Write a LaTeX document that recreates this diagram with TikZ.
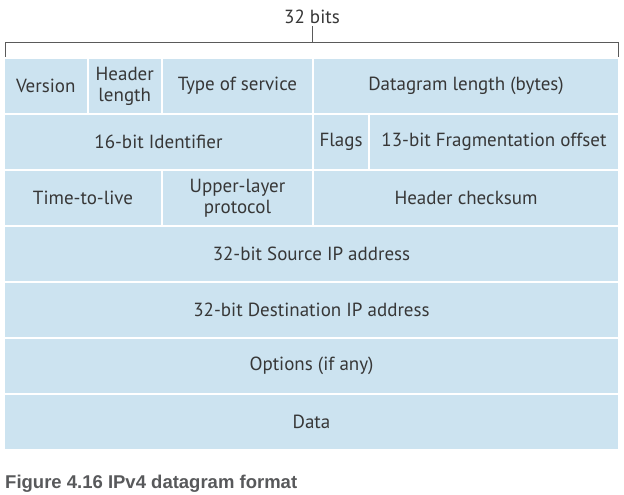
\documentclass[tikz,border=0pt]{standalone}
\usepackage{fontspec}
\setmainfont{PT Sans}
\newfontfamily\capfont{Liberation Sans}
\usetikzlibrary{positioning}
\definecolor{fieldblue}{RGB}{204,227,240}
\definecolor{fieldtext}{RGB}{55,55,55}
\definecolor{capgray}{RGB}{88,89,91}
\definecolor{bracegray}{RGB}{90,90,90}

\tikzset{
	field/.style={fill=fieldblue, draw=none, inner sep=0pt, minimum height=54pt, align=center, text=fieldtext, font=\fontsize{19}{21}\selectfont},
	brace/.style={draw=bracegray, line width=0.8pt}
}

\begin{document}
\begin{tikzpicture}[x=1pt, y=-1pt]
		\useasboundingbox (0,0) rectangle (624,495);
		
		% width of the datagram
		\node[text=fieldtext, font=\fontsize{19}{19}\selectfont] (bits) at (312,17) {32 bits};
		\coordinate (bl) at (5,57);
		\coordinate (br) at (618,57);
		\coordinate (bm) at (312,42);
		\draw[brace] (bl) -- (5,42) -- (618,42) -- (br);
		\draw[brace] (bits.south) ++(0,-1) -- (bm);
		
		% row 1
		\node[field, minimum width=81.5pt] (version) at (45.75,86) {Version};
		\node[field, minimum width=72.5pt] (hlen) at (124.75,86) {Header\\length};
		\node[field, minimum width=149pt] (tos) at (237.5,86) {Type of service};
		\node[field, minimum width=304pt] (dlen) at (466,86) {Datagram length (bytes)};
		
		% row 2
		\node[field, minimum width=307pt] (ident) at (158.5,142) {16-bit Identifier};
		\node[field, minimum width=54pt] (flags) at (341,142) {Flags};
		\node[field, minimum width=248pt] (fragoff) at (494,142) {13-bit Fragmentation offset};
		
		% row 3
		\node[field, minimum width=156pt] (ttl) at (83,198) {Time-to-live};
		\node[field, minimum width=149pt] (proto) at (237.5,198) {Upper-layer\\protocol};
		\node[field, minimum width=304pt] (cksum) at (466,198) {Header checksum};
		
		% full width rows
		\node[field, minimum width=613pt] (srcip) at (311.5,254) {32-bit Source IP address};
		\node[field, minimum width=613pt] (dstip) at (311.5,310) {32-bit Destination IP address};
		\node[field, minimum width=613pt] (opts) at (311.5,366) {Options (if any)};
		\node[field, minimum width=613pt] (data) at (311.5,422) {Data};
		
		\node[anchor=west, inner sep=0pt, text=capgray, font=\capfont\bfseries\fontsize{18.5}{18.5}\selectfont] (caption) at (5,484) {Figure 4.16 IPv4 datagram format};
	\end{tikzpicture}
\end{document}
